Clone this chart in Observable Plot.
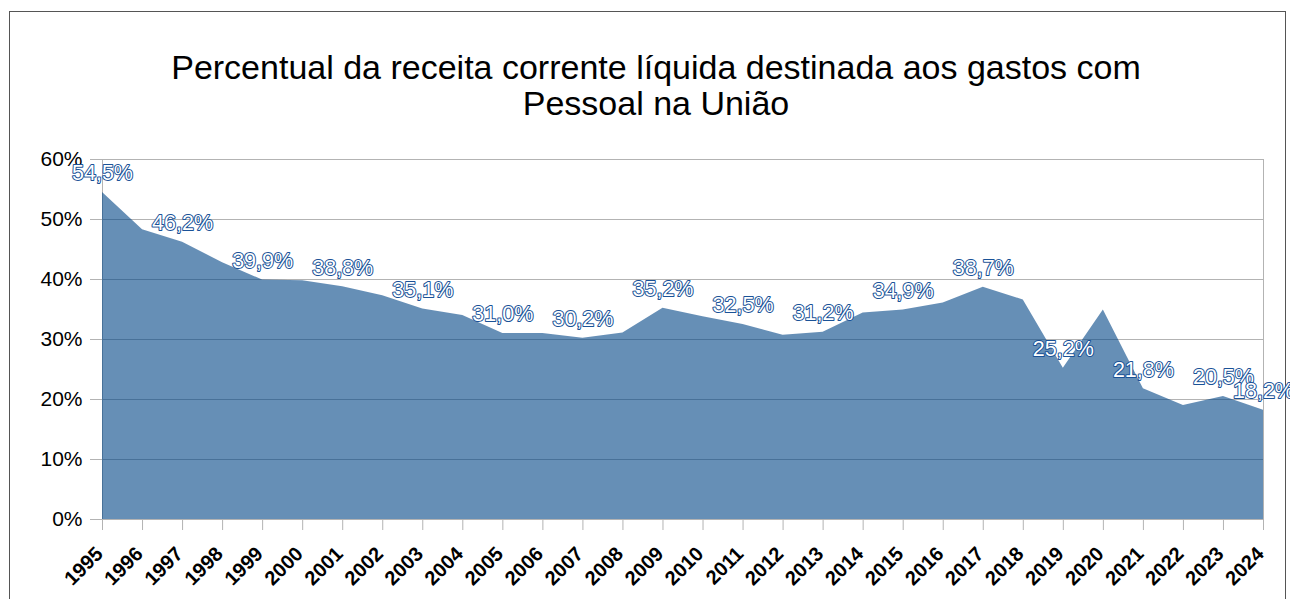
<!DOCTYPE html>
<html>
<head>
<meta charset="utf-8">
<script src="https://cdn.jsdelivr.net/npm/d3@7"></script>
<script src="https://cdn.jsdelivr.net/npm/@observablehq/plot@0.6"></script>
<style>
  html, body { margin: 0; padding: 0; background: #fff; overflow: hidden; }
  body { width: 1290px; height: 599px; position: relative; font-family: "Liberation Sans", Arial, sans-serif; }
  #frame { position: absolute; left: 9px; top: 11px; width: 1277px; height: 700px; border: 1px solid #555; box-sizing: border-box; }
  #title { position: relative; padding-top: 49px; padding-left: 22px; text-align: center; font-size: 34px; line-height: 36px; color: #000; height: 72px; }
  #chart { position: relative; }
</style>
</head>
<body>
<div id="frame"></div>
<div id="title">Percentual da receita corrente líquida destinada aos gastos com<br>Pessoal na União</div>
<div id="chart"></div>
<script>
const years = [1995,1996,1997,1998,1999,2000,2001,2002,2003,2004,2005,2006,2007,2008,2009,2010,2011,2012,2013,2014,2015,2016,2017,2018,2019,2020,2021,2022,2023,2024];
const values = [54.5,48.3,46.2,42.8,39.9,39.8,38.8,37.3,35.1,34.0,31.0,31.0,30.2,31.1,35.2,33.8,32.5,30.7,31.2,34.4,34.9,36.1,38.7,36.6,25.2,34.9,21.8,19.0,20.5,18.2];
const labeledYears = [1995,1997,1999,2001,2003,2005,2007,2009,2011,2013,2015,2017,2019,2021,2023,2024];
const yTicks = [0,10,20,30,40,50,60];

const data = years.map((year, i) => ({year, value: values[i]}));
const labeled = data.filter(d => labeledYears.includes(d.year));

const chart = Plot.plot({
  width: 1290,
  height: 478,
  marginTop: 38,
  marginBottom: 80,
  marginLeft: 102,
  marginRight: 27,
  style: {fontFamily: "'Liberation Sans', Arial, sans-serif", background: "transparent", overflow: "visible"},
  x: {type: "linear", domain: [1995, 2024]},
  y: {domain: [0, 60]},
  marks: [
    Plot.gridY(yTicks, {stroke: "#b3b3b3", strokeOpacity: 1}),
    Plot.ruleX([1995, 2024], {stroke: "#b3b3b3", y1: 0, y2: 60}),
    Plot.areaY(data, {x: "year", y: "value", fill: "#004586", fillOpacity: 0.6}),
    Plot.axisY({ticks: yTicks, tickFormat: d => d + "%", tickSize: 12, tickPadding: 8, stroke: "#b3b3b3", fill: "#000", fontSize: 21, label: null}),
    Plot.axisX({ticks: years, tickFormat: () => "", tickSize: 11, stroke: "#b3b3b3", label: null}),
    Plot.axisX({ticks: years, tickFormat: d => String(d), tickSize: 0, tickPadding: 31, tickRotate: -45, fill: "#000", fontSize: 20, fontWeight: "bold", label: null, dx: -3}),
    Plot.text(labeled, {x: "year", y: "value", text: d => d.value.toFixed(1).replace(".", ",") + "%", dy: -19, fill: "white", stroke: "#1a5297", strokeWidth: 2, fontSize: 21.5, textAnchor: "middle"})
  ]
});
document.getElementById("chart").appendChild(chart);
</script>
</body>
</html>
